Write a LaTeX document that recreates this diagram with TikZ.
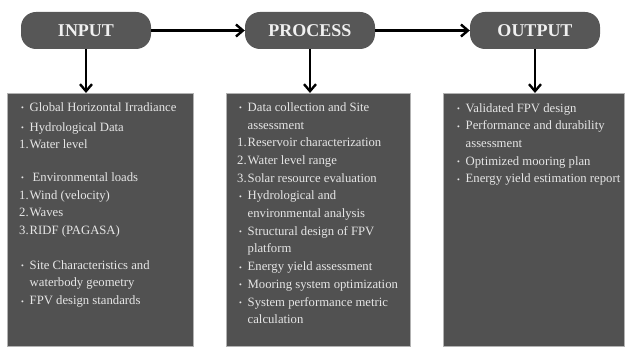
\documentclass[tikz,border=0pt]{standalone}
\usepackage{fontspec}
\setmainfont{Liberation Serif}
\usetikzlibrary{arrows.meta}

\definecolor{pillgray}{HTML}{575757}
\definecolor{boxgray}{HTML}{515151}
\definecolor{txtgray}{HTML}{E6E6E6}

\newcommand{\bl}{\makebox[10.5pt][l]{\hspace{2pt}\raisebox{0.6pt}{\fontsize{8}{8}\selectfont\textbullet}}}
\newcommand{\nm}[1]{\makebox[10.5pt][l]{#1}}

\tikzset{
	pill/.style={rectangle, rounded corners=15pt, fill=pillgray, text=white!94!black, minimum width=130pt, minimum height=37pt, inner sep=0pt, font=\fontsize{18}{18}\selectfont\bfseries},
	panel/.style={rectangle, fill=boxgray, draw=black!30, line width=0.5pt, anchor=north west, inner sep=0pt},
	list/.style={anchor=north west, inner sep=0pt, align=left, text=txtgray, font=\fontsize{12.7}{17.7}\selectfont},
	flow/.style={line width=2.4pt, -{Straight Barb[length=7pt,width=12pt]}}
}

\begin{document}
\begin{tikzpicture}[x=1pt,y=-1pt]
			\useasboundingbox (0,0) rectangle (625,347);
			
			\node(in) [pill] at (86,30.5){INPUT};
			\node(pr) [pill] at (310,30.5){PROCESS};
			\node(out) [pill] at (535,30.5){OUTPUT};
			
			\node(inbox) [panel, minimum width=186pt, minimum height=253pt] at (7,93){};
			\node(prbox) [panel, minimum width=184pt, minimum height=253pt] at (226,93){};
			\node(outbox) [panel, minimum width=181pt, minimum height=253pt] at (443,93){};
			
			\draw[flow] (in)--(pr);
			\draw[flow] (pr)--(out);
			\draw[flow] (in.south)--(in.south|-inbox.north);
			\draw[flow] (pr.south)--(pr.south|-prbox.north);
			\draw[flow] (out.south)--(out.south|-outbox.north);
			
			\node(intxt) [list] at (19,102.3){\bl Global Horizontal Irradiance\\[2pt]
				\bl Hydrological Data\\
				\nm{1.}Water level\\[15pt]
				\bl\hspace{3pt}Environmental loads\\
				\nm{1.}Wind (velocity)\\
				\nm{2.}Waves\\
				\nm{3.}RIDF (PAGASA)\\[17pt]
				\bl Site Characteristics and\\
				\nm{}waterbody geometry\\
				\bl FPV design standards};
			\node(prtxt) [list] at (237,102.3){\bl Data collection and Site\\
				\nm{}assessment\\
				\nm{1.}Reservoir characterization\\
				\nm{2.}Water level range\\
				\nm{3.}Solar resource evaluation\\
				\bl Hydrological and\\
				\nm{}environmental analysis\\
				\bl Structural design of FPV\\
				\nm{}platform\\
				\bl Energy yield assessment\\
				\bl Mooring system optimization\\
				\bl System performance metric\\
				\nm{}calculation};
			\node(outtxt) [list] at (455,103){\bl Validated FPV design\\
				\bl Performance and durability\\
				\nm{}assessment\\
				\bl Optimized mooring plan\\
				\bl Energy yield estimation report};
			
		\end{tikzpicture}
\end{document}
